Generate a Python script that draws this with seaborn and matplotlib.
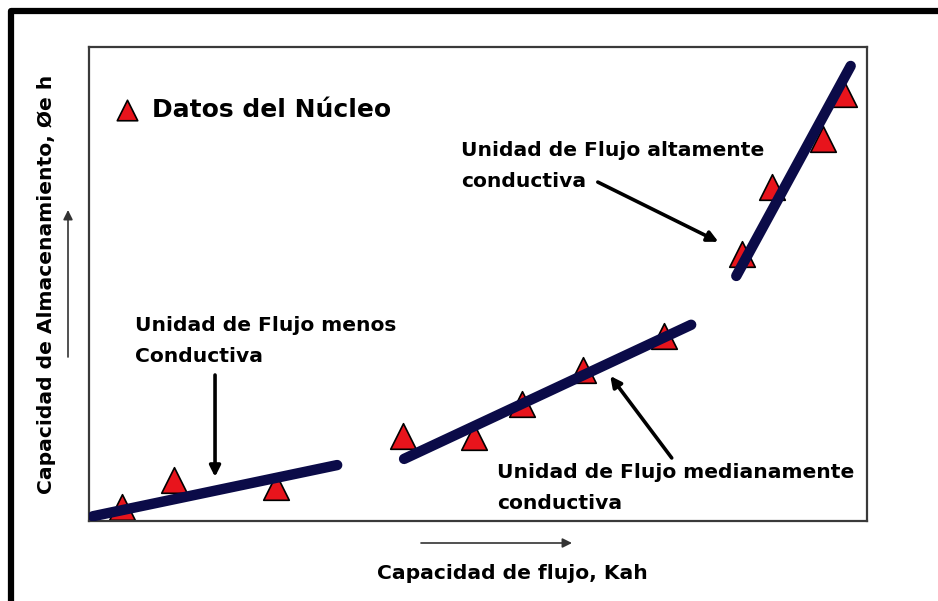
import numpy as np
import pandas as pd
import matplotlib
matplotlib.use("Agg")
import matplotlib.pyplot as plt
import seaborn as sns

# core data points (x = Kh capacity, y = storage capacity), arbitrary 0-100 units
core_x = [4.2, 10.9, 24.0, 40.4, 49.5, 55.7, 63.5, 73.9, 83.9, 87.8, 94.3, 97.0]
core_y = [3.0, 8.7, 7.2, 17.9, 17.7, 24.7, 31.9, 39.0, 56.3, 70.5, 80.6, 90.1]

# flow unit trend lines (start, end)
unit_names = ["menos", "medianamente", "altamente"]
unit_x = [[0.5, 31.9], [40.5, 77.4], [83.2, 97.9]]
unit_y = [[1.0, 11.8], [13.1, 41.4], [51.7, 96.0]]

# annotation texts: (text, text pos, arrow tail, arrow head)
notes = [
    ("Unidad de Flujo menos\nConductiva", (5.9, 43.3), (16.2, 30.8), (16.2, 9.3)),
    ("Unidad de Flujo medianamente\nconductiva", (52.4, 12.3), (74.9, 13.3), (67.0, 30.6)),
    ("Unidad de Flujo altamente\nconductiva", (47.8, 80.2), (65.4, 71.5), (80.9, 58.9)),
]

sns.set_style("white")
plt.rcParams["font.family"] = ["DejaVu Sans"]
plt.rcParams["font.weight"] = "bold"

fig = plt.figure(figsize=(9.38, 6.01), dpi=100)
ax = fig.add_axes([89 / 938, 1 - 521 / 601, 778 / 938, 474 / 601])

line_color = "#0b0b48"
for xs, ys in zip(unit_x, unit_y):
    sns.lineplot(x=xs, y=ys, ax=ax, color=line_color, lw=7.5,
                 solid_capstyle="round", zorder=3, sort=False)

core_df = pd.DataFrame({"x": core_x, "y": core_y})
sns.scatterplot(data=core_df, x="x", y="y", ax=ax, marker="^", s=340,
                color="#e8141c", edgecolor="black", linewidth=1.2, zorder=2,
                label="Datos del Núcleo")

for text, pos, tail, head in notes:
    ax.text(pos[0], pos[1], text, ha="left", va="top", fontsize=14.6,
            fontweight="bold", linespacing=1.8, color="black")
    ax.annotate("", xy=head, xytext=tail,
                arrowprops=dict(arrowstyle="-|>", lw=2.6, color="black",
                                mutation_scale=16, shrinkA=0, shrinkB=0))

ax.set_xlim(0, 100)
ax.set_ylim(0, 100)
ax.set_xticks([])
ax.set_yticks([])
for sp in ax.spines.values():
    sp.set_visible(True)
    sp.set_color("#3a3a3a")
    sp.set_linewidth(1.6)

leg = ax.legend(loc="upper left", bbox_to_anchor=(-0.012, 0.94), frameon=False,
                fontsize=18, handletextpad=0.0, markerscale=0.8)
for t in leg.get_texts():
    t.set_fontweight("bold")
    t.set_color("black")

ax.set_xlabel("Capacidad de flujo, Kah", fontsize=14.6, fontweight="bold", color="black")
ax.xaxis.set_label_coords(0.544, -0.11)
ax.xaxis.label.set_va("center")
ax.set_ylabel("Capacidad de Almacenamiento, Øe h", fontsize=14.6, fontweight="bold",
              color="black")
ax.yaxis.set_label_coords(-0.055, 0.50)
ax.yaxis.label.set_va("center")

# small direction arrows next to the axis titles
ax.annotate("", xy=(572, 58), xytext=(421, 58), xycoords="figure pixels",
            arrowprops=dict(arrowstyle="-|>", lw=1.2, color="#333333",
                            mutation_scale=14, shrinkA=0, shrinkB=0))
ax.annotate("", xy=(68, 391), xytext=(68, 244), xycoords="figure pixels",
            arrowprops=dict(arrowstyle="-|>", lw=1.2, color="#333333",
                            mutation_scale=14, shrinkA=0, shrinkB=0))

# outer frame (only left and top edges visible)
fig.add_artist(plt.Line2D([11 / 938, 11 / 938, 1.01], [-0.01, 1 - 11 / 601, 1 - 11 / 601],
                          transform=fig.transFigure, color="black", lw=4.5))

fig.savefig("out.png", dpi=100)
